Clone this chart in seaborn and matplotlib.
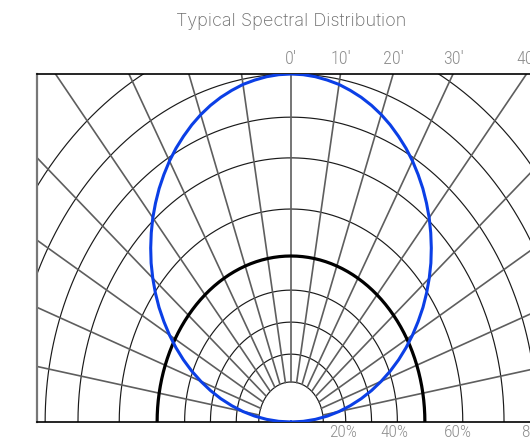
import numpy as np
import pandas as pd
import matplotlib
matplotlib.use("Agg")
import matplotlib.pyplot as plt
import seaborn as sns

# =========================
# Data
# =========================
# angle in degrees, 0 = straight up, negative = left (2.5 degree steps)
angles = [-90, -87.5, -85, -82.5, -80, -77.5, -75, -72.5, -70, -67.5, -65,
          -62.5, -60, -57.5, -55, -52.5, -50, -47.5, -45, -42.5, -40, -37.5,
          -35, -32.5, -30, -27.5, -25, -22.5, -20, -17.5, -15, -12.5, -10,
          -7.5, -5, -2.5, 0, 2.5, 5, 7.5, 10, 12.5, 15, 17.5, 20, 22.5, 25,
          27.5, 30, 32.5, 35, 37.5, 40, 42.5, 45, 47.5, 50, 52.5, 55, 57.5,
          60, 62.5, 65, 67.5, 70, 72.5, 75, 77.5, 80, 82.5, 85, 87.5, 90]
# relative intensity (%) of the blue curve
blue_pct = [0, 4.4, 8.7, 13.1, 17.4, 21.6, 25.9, 30.1, 34.2, 38.3, 42.3,
            46.2, 50, 53.7, 57.4, 60.9, 64.3, 67.6, 70.7, 73.7, 76.6, 79.3,
            81.9, 84.3, 86.6, 88.7, 90.6, 92.4, 94, 95.4, 96.6, 97.6, 98.5,
            99.1, 99.6, 99.9, 100, 99.9, 99.6, 99.1, 98.5, 97.6, 96.6, 95.4,
            94, 92.4, 90.6, 88.7, 86.6, 84.3, 81.9, 79.3, 76.6, 73.7, 70.7,
            67.6, 64.3, 60.9, 57.4, 53.7, 50, 46.2, 42.3, 38.3, 34.2, 30.1,
            25.9, 21.6, 17.4, 13.1, 8.7, 4.4, 0]
# black reference ring (%)
black_pct = [47.7] * len(angles)

# polar grid
grid_radii = [11.5, 19.5, 28.7, 37.9, 47.7, 61.2, 75.9, 87.6, 100, 113]
spoke_angles = [-80, -70, -60, -50, -40, -30, -20, -10, 0, 10, 20, 30, 40, 50, 60, 70, 80]

# tick labels
top_angles = [0, 10, 20, 30, 40]
bottom_labels = ["20%", "40%", "60%", "80%"]
bottom_pos = [18.5, 37, 59.5, 87]

label_font = ["Roboto Condensed", "Liberation Sans Narrow", "DejaVu Sans"]

# =========================
# Polar -> cartesian
# =========================
def to_xy(theta_deg, r):
    t = np.radians(np.asarray(theta_deg, dtype=float))
    r = np.asarray(r, dtype=float)
    return r * np.sin(t), r * np.cos(t)

bx, by = to_xy(angles, blue_pct)
kx, ky = to_xy(angles, black_pct)
curves = pd.concat([
    pd.DataFrame({"x": bx, "y": by, "series": "blue"}),
    pd.DataFrame({"x": kx, "y": ky, "series": "black"}),
])

# =========================
# Figure
# =========================
sns.set_style("white")
fig = plt.figure(figsize=(5.3, 4.43), dpi=100)
ax = fig.add_axes([37 / 530, 21 / 443, 508 / 530, 348 / 443])

# grid arcs
arc_t = np.linspace(-90, 90, 361)
for r in grid_radii:
    x, y = to_xy(arc_t, np.full_like(arc_t, r))
    ax.plot(x, y, color="#1a1a1a", lw=0.85, zorder=1)

# spokes
for a in spoke_angles:
    x, y = to_xy([a, a], [grid_radii[0], 200])
    ax.plot(x, y, color="#5e5e5e", lw=1.2, zorder=1)

sns.lineplot(data=curves[curves.series == "black"], x="x", y="y", sort=False,
             estimator=None, color="black", lw=2.3, ax=ax, zorder=3)
sns.lineplot(data=curves[curves.series == "blue"], x="x", y="y", sort=False,
             estimator=None, color="#0b3fe6", lw=2.2, ax=ax, zorder=4)

ax.set_xlim(-90.5, 90.5)
ax.set_ylim(0, 100)
ax.set_xlabel("")
ax.set_ylabel("")
ax.set_yticks([])

ax.set_xticks(bottom_pos, bottom_labels)
ax.tick_params(axis="x", length=0, pad=2.5, labelcolor="#8e8e8e", labelsize=12.5)
for t in ax.get_xticklabels():
    t.set_family(label_font)
    t.set_fontweight("light")

secax = ax.secondary_xaxis("top")
secax.set_xticks([100 * np.tan(np.radians(a)) for a in top_angles],
                 [f"{a}\u2032" for a in top_angles])
secax.tick_params(axis="x", length=0, pad=4, labelcolor="#8e8e8e", labelsize=13)
for t in secax.get_xticklabels():
    t.set_family(label_font)
    t.set_fontweight("light")
secax.spines["top"].set_visible(False)

for side in ["top", "bottom"]:
    ax.spines[side].set_color("black")
    ax.spines[side].set_linewidth(1.2)
ax.spines["left"].set_color("#777777")
ax.spines["left"].set_linewidth(1.6)
ax.spines["right"].set_visible(False)

fig.text(291 / 530, 1 - 26 / 443, "Typical Spectral Distribution",
         ha="center", va="baseline", color="#6f6f6f", fontsize=13,
         family=["Inter", "DejaVu Sans"], fontweight="light")

fig.savefig("out.png", dpi=100)
